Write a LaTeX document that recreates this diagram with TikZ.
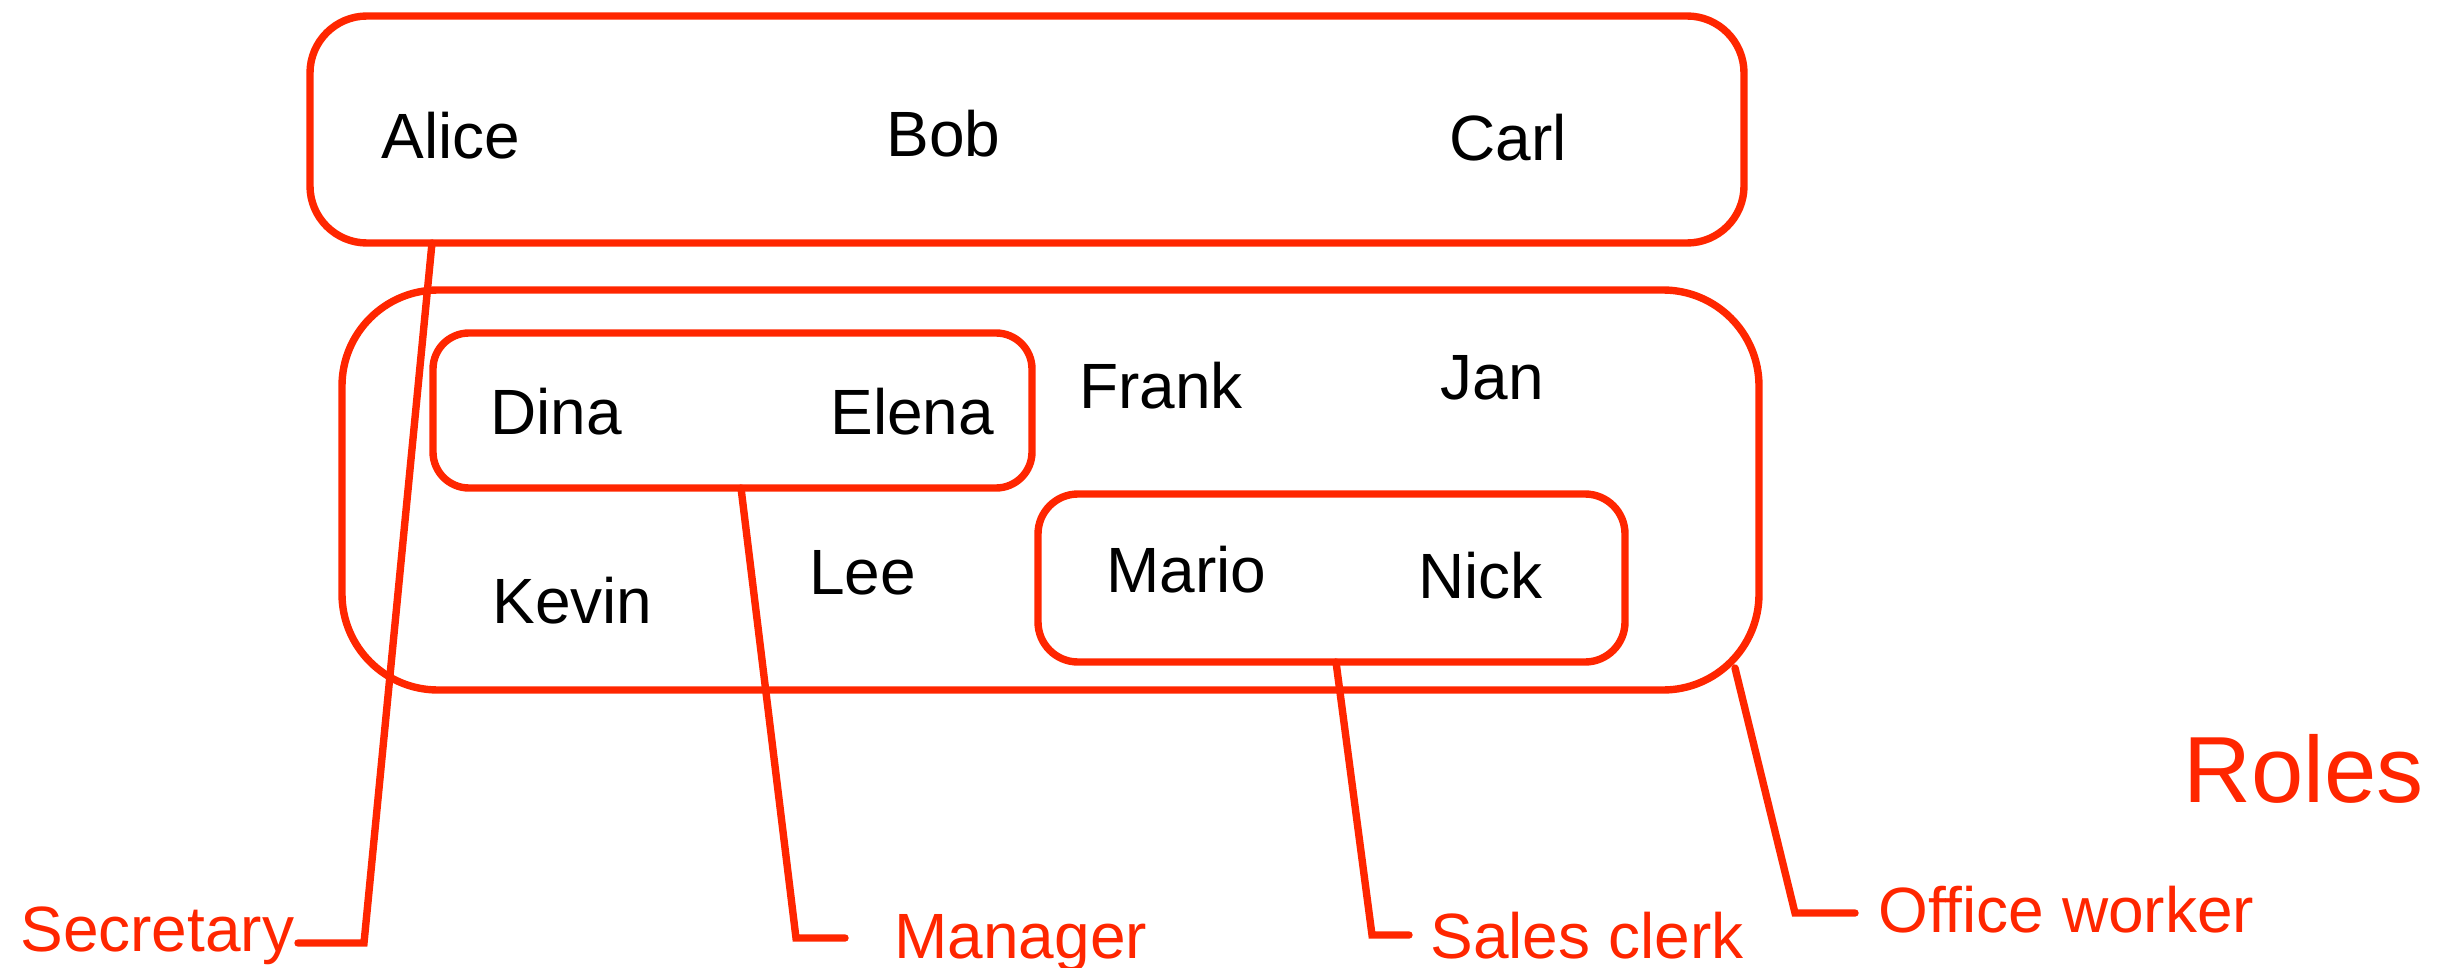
\documentclass[tikz,border=0pt]{standalone}
\usepackage{fontspec}
\setmainfont{Liberation Sans}
\definecolor{rolered}{RGB}{255,38,0}
\begin{document}
\begin{tikzpicture}[x=0.5pt,y=-0.5pt,
  groupbox/.style={rectangle, draw=rolered, line width=3.7pt, inner sep=0pt, outer sep=0pt},
  person/.style={anchor=base west, inner sep=0pt, text=black, font=\fontsize{32}{38}\selectfont},
  rolelabel/.style={anchor=base west, inner sep=0pt, text=rolered, font=\fontsize{32}{38}\selectfont},
  pointer/.style={draw=rolered, line width=3.7pt, line cap=round}]
\useasboundingbox (0,0) rectangle (2452,968);

% role groups
\node[groupbox, rounded corners=28.5pt, minimum width=717pt, minimum height=113.5pt] (secretaries) at (1027,129.5) {};
\node[groupbox, rounded corners=48pt, minimum width=708.5pt, minimum height=200pt] (office) at (1050.5,490) {};
\node[groupbox, rounded corners=18pt, minimum width=299.5pt, minimum height=77.5pt] (managers) at (732.5,410.5) {};
\node[groupbox, rounded corners=20pt, minimum width=293.5pt, minimum height=84pt] (clerks) at (1331.5,578) {};

% people
\node[person] (alice) at (381,159) {Alice};
\node[person] (bob) at (886,157) {Bob};
\node[person] (carl) at (1449,161) {Carl};
\node[person] (dina) at (490,434) {Dina};
\node[person] (elena) at (830,434) {Elena};
\node[person] (frank) at (1079,408) {Frank};
\node[person] (jan) at (1440,399) {Jan};
\node[person] (kevin) at (492,623) {Kevin};
\node[person] (lee) at (809,594) {Lee};
\node[person] (mario) at (1106,592) {Mario};
\node[person] (nick) at (1418,598) {Nick};

% role names
\node[rolelabel] (secretary) at (20,951) {Secretary};
\node[rolelabel] (manager) at (894,958) {Manager};
\node[rolelabel] (salesclerk) at (1430,958) {Sales clerk};
\node[rolelabel] (officeworker) at (1878,932) {Office worker};
\node[anchor=base west, inner sep=0pt, text=rolered, font=\fontsize{47}{56}\selectfont] (roles) at (2183,802) {Roles};

% elbows of the pointers
\coordinate (secBend) at (364,943);
\coordinate (secEnd) at (298,943);
\coordinate (manBend) at (796,938);
\coordinate (manEnd) at (845,938);
\coordinate (salBend) at (1372,935);
\coordinate (salEnd) at (1409,935);
\coordinate (offBend) at (1795,913);
\coordinate (offEnd) at (1855,913);

% pointers from each group to its role name
\draw[pointer] ([xshift=61pt]secretaries.south west) -- (secBend) -- (secEnd);
\draw[pointer] ([xshift=154pt]managers.south west) -- (manBend) -- (manEnd);
\draw[pointer] ([xshift=149pt]clerks.south west) -- (salBend) -- (salEnd);
\draw[pointer] ([xshift=-12pt,yshift=11pt]office.south east) -- (offBend) -- (offEnd);
\end{tikzpicture}
\end{document}
